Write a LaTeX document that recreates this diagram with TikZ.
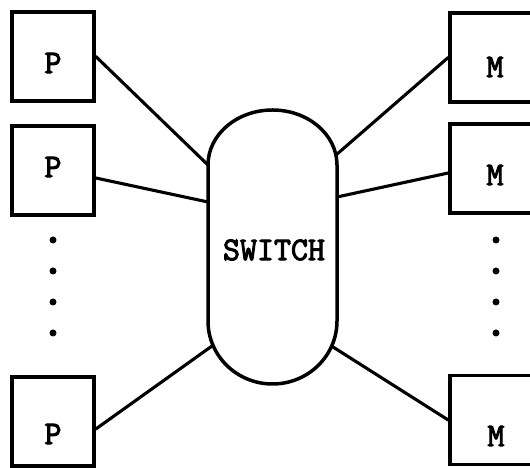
\documentclass[tikz,border=0pt]{standalone}
\usepackage{fontspec}
\newfontfamily\twfont{Latin Modern Mono}[FakeBold=3]
\begin{document}
\begin{tikzpicture}[x=1pt,y=1pt,
  unitbox/.style={draw=black,line width=3.6pt,minimum width=82pt,minimum height=89pt,inner sep=0pt,rectangle},
  lbl/.style={font=\twfont\fontsize{33}{33}\selectfont,inner sep=0pt},
  wire/.style={line width=3.1pt,line cap=round},
  dotmark/.style={circle,fill=black,inner sep=0pt,minimum size=7pt},
  switchline/.style={line width=3.5pt,line join=round}]
\useasboundingbox (0,0) rectangle (530,468);
\clip (0,0) rectangle (530,468);
% processors
\node[unitbox] (p1) at (53,411.5) {};
\node[unitbox] (p2) at (53,297.5) {};
\node[unitbox] (p3) at (53,46.5) {};
\node[lbl] (p1l) at (53,405) {P};
\node[lbl] (p2l) at (53,301) {P};
\node[lbl] (p3l) at (53,34) {P};
% memories
\node[unitbox] (m1) at (491,410.5) {};
\node[unitbox] (m2) at (491,299.5) {};
\node[unitbox] (m3) at (491,48) {};
\node[lbl] (m1l) at (495,401) {M};
\node[lbl] (m2l) at (495,293) {M};
\node[lbl] (m3l) at (496,32) {M};
% switch
\draw[switchline] (208,147) -- (208,303)
  arc[start angle=180,end angle=0,x radius=64.5,y radius=55]
  -- (337,147)
  arc[start angle=0,end angle=-180,x radius=64.5,y radius=63] -- cycle;
\node[lbl] (sw) at (274,218) {SWITCH};
\coordinate (sl1) at (208,303);
\coordinate (sl2) at (208,266);
\coordinate (sl3) at (212,122);
\coordinate (sr1) at (336,313);
\coordinate (sr2) at (337,271);
\coordinate (sr3) at (333,121);
% connectors
\draw[wire] (p1.east) -- (sl1);
\draw[wire] ([yshift=-7.5pt]p2.east) -- (sl2);
\draw[wire] ([yshift=-7.5pt]p3.east) -- (sl3);
\draw[wire] (m1.west) -- (sr1);
\draw[wire] ([yshift=-4.5pt]m2.west) -- (sr2);
\draw[wire] (m3.west) -- (sr3);
% dots
\foreach \yy [count=\i] in {228,197,166,135}{
  \node[dotmark] (ld\i) at (53,\yy) {};
  \node[dotmark] (rd\i) at (496,\yy) {};
}
\end{tikzpicture}
\end{document}
